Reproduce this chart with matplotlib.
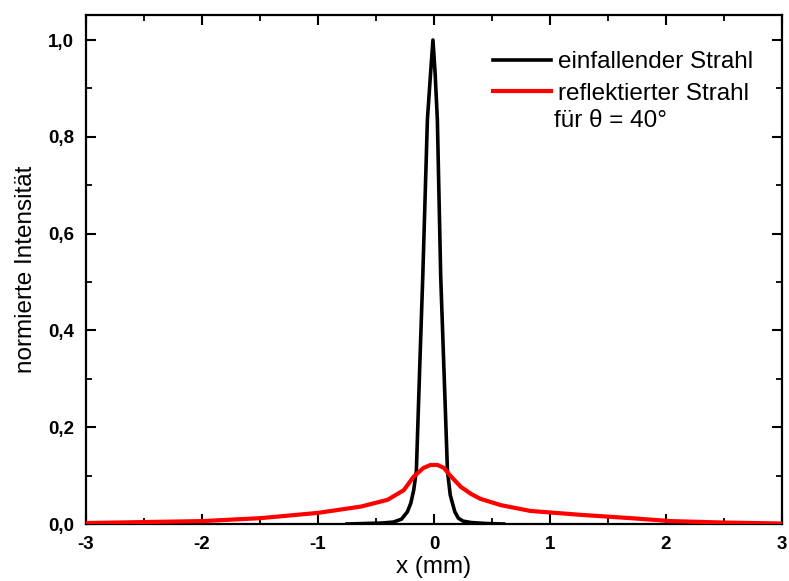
import matplotlib
matplotlib.use("Agg")
import matplotlib.pyplot as plt
from matplotlib.ticker import MultipleLocator, FuncFormatter

# incident beam (black)
x_inc = [-0.75, -0.6, -0.45, -0.35, -0.28, -0.23, -0.20, -0.175, -0.152, -0.125,
         -0.097, -0.057, -0.03, -0.009, 0.01, 0.029, 0.058, 0.09, 0.116, 0.14,
         0.159, 0.18, 0.21, 0.25, 0.32, 0.45, 0.6]
y_inc = [0.0, 0.001, 0.002, 0.004, 0.01, 0.025, 0.043, 0.07, 0.11, 0.31,
         0.51, 0.835, 0.93, 1.0, 0.93, 0.835, 0.51, 0.29, 0.11, 0.06,
         0.043, 0.025, 0.012, 0.006, 0.003, 0.001, 0.0]

# reflected beam (red)
x_ref = [-3, -2.5, -2, -1.5, -1, -0.63, -0.4, -0.26, -0.175, -0.09, -0.03, 0.03,
         0.085, 0.14, 0.23, 0.32, 0.40, 0.575, 0.83, 1.26, 1.7, 2.04, 2.5, 3]
y_ref = [0.002, 0.004, 0.006, 0.012, 0.023, 0.036, 0.05, 0.07, 0.098, 0.116, 0.122, 0.122,
         0.116, 0.10, 0.077, 0.062, 0.052, 0.039, 0.027, 0.019, 0.012, 0.006, 0.003, 0.001]

xticks = [-3, -2, -1, 0, 1, 2, 3]
yticks = [0.0, 0.2, 0.4, 0.6, 0.8, 1.0]

plt.rcParams['font.family'] = ['Liberation Sans', 'DejaVu Sans']

fig = plt.figure(figsize=(7.89, 5.81), dpi=100)
ax = fig.add_axes([86/789, 57/581, (782-86)/789, (524-15)/581])

ax.plot(x_inc, y_inc, color='black', lw=2.6, label='einfallender Strahl', zorder=3)
ax.plot(x_ref, y_ref, color='#ff0000', lw=3.0, label='reflektierter Strahl', zorder=4)

ax.set_xlim(-3, 3)
ax.set_ylim(0, 1.0517)
ax.set_xticks(xticks)
ax.set_yticks(yticks)
ax.xaxis.set_minor_locator(MultipleLocator(0.5))
ax.yaxis.set_minor_locator(MultipleLocator(0.1))
ax.yaxis.set_major_formatter(FuncFormatter(lambda v, p: f"{v:.1f}".replace('.', ',')))
ax.xaxis.set_major_formatter(FuncFormatter(lambda v, p: f"{int(round(v))}"))

for s in ax.spines.values():
    s.set_linewidth(1.6)
ax.tick_params(which='major', direction='in', length=7, width=1.5,
               top=True, right=True, labelsize=13.5, pad=8.5)
ax.tick_params(which='minor', direction='in', length=4, width=1.3,
               top=True, right=True)
for lab in ax.get_xticklabels() + ax.get_yticklabels():
    lab.set_fontweight('bold')

ax.set_xlabel('x (mm)', fontsize=17.5, labelpad=2)
ax.set_ylabel('normierte Intensität', fontsize=17.5, labelpad=8)

leg = ax.legend(loc='upper left', bbox_to_anchor=(0.585, 0.929), frameon=False,
                fontsize=17.5, handlelength=2.4, handletextpad=0.25, labelspacing=0.4,
                borderaxespad=0, borderpad=0)
ax.text(0.672, 0.792, 'für θ = 40°', transform=ax.transAxes, fontsize=17.5,
        ha='left', va='center')

fig.savefig('out.png', dpi=100)
